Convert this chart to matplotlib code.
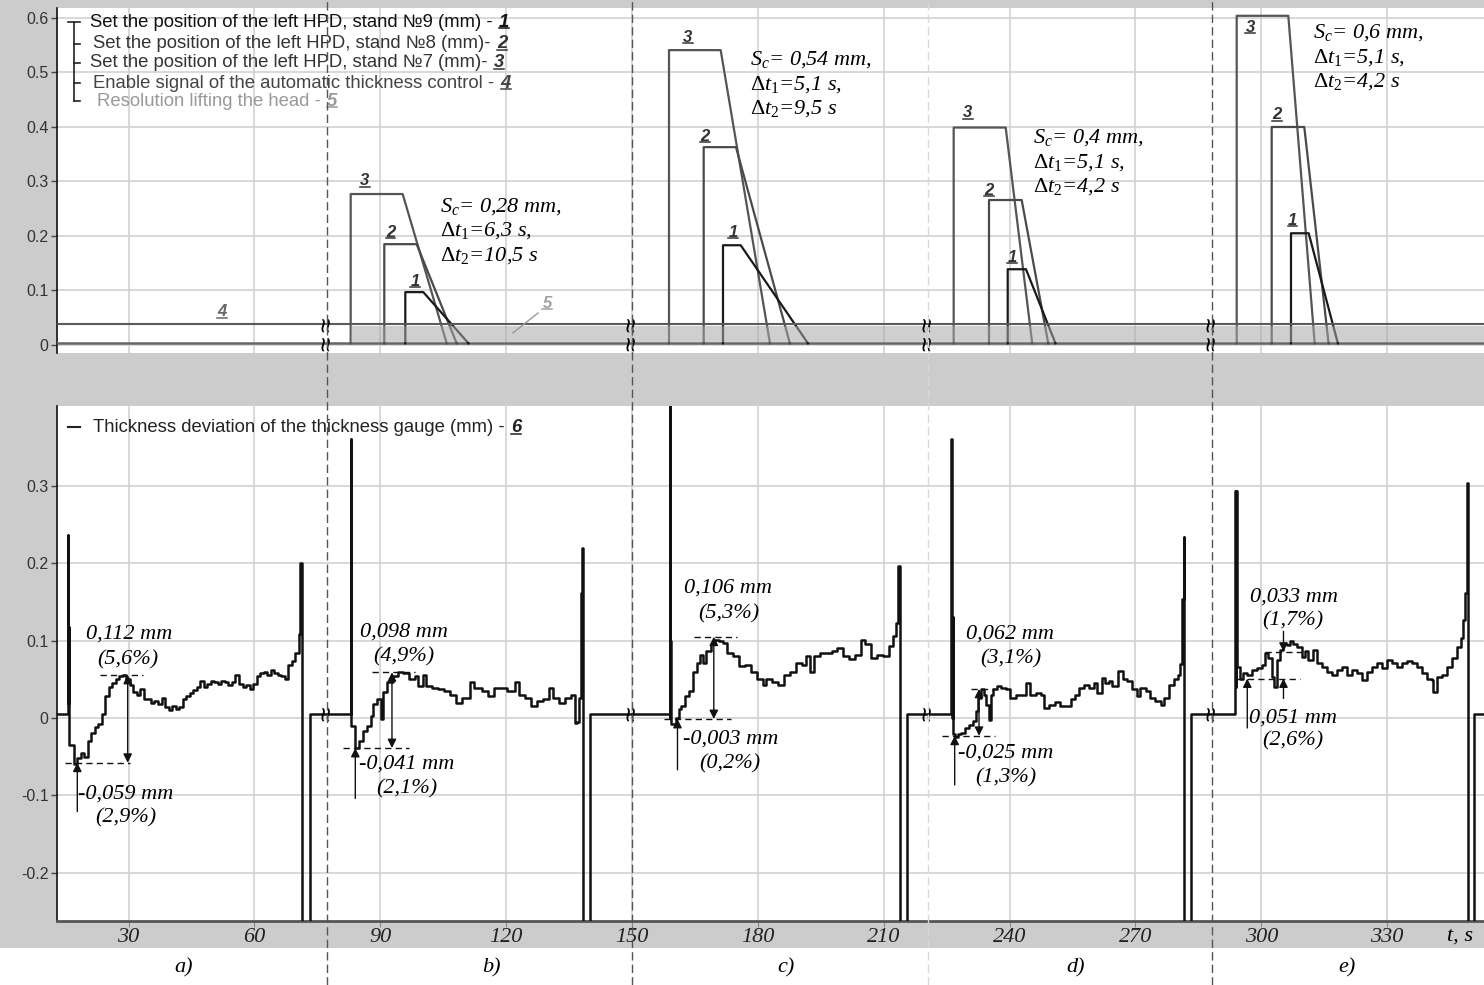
import numpy as np
import matplotlib
matplotlib.use('Agg')
import matplotlib.pyplot as plt
from matplotlib.lines import Line2D
from matplotlib.patches import Rectangle
from matplotlib import transforms
from matplotlib.ticker import FuncFormatter

plt.rcParams['font.family'] = ['Liberation Sans', 'DejaVu Sans']
plt.rcParams['mathtext.fontset'] = 'custom'
plt.rcParams['mathtext.rm'] = 'Liberation Serif'
plt.rcParams['mathtext.it'] = 'Liberation Serif:italic'
plt.rcParams['mathtext.bf'] = 'Liberation Serif:bold'

# ---------------- data ----------------
t_min, t_max = 12.93, 353.1
breaks_t = [77.3, 150.0, 220.6, 288.3]
seg_labels = ['a)', 'b)', 'c)', 'd)', 'e)']
seg_label_t = [43.0, 116.4, 186.7, 255.8, 320.4]

base = 0.003
# set-point steps, segments b..e : rise, end of plateau, back at zero, level
s3_rise = [82.94, 158.82, 226.68, 294.15]
s3_flat = [95.33, 171.14, 239.08, 306.45]
s3_zero = [105.82, 182.89, 245.40, 312.74]
s3_level = [0.277, 0.541, 0.399, 0.604]

s2_rise = [90.95, 167.09, 235.10, 302.49]
s2_flat = [98.67, 174.79, 242.89, 310.26]
s2_zero = [108.21, 187.64, 249.23, 316.05]
s2_level = [0.185, 0.363, 0.266, 0.400]

s1_rise = [95.96, 171.69, 239.56, 307.09]
s1_flat = [100.25, 175.91, 243.92, 311.31]
s1_zero = [111.02, 191.95, 250.95, 318.27]
s1_level = [0.097, 0.183, 0.139, 0.205]

sig4_level = 0.038
sig5_start, sig5_low, sig5_high = 82.94, 0.006, 0.034

sc_mm = ['0,28', '0,54', '0,4', '0,6']
dt1 = ['6,3', '5,1', '5,1', '5,1']
dt2 = ['10,5', '9,5', '4,2', '4,2']

# thickness deviation (signal 6)
tr_a_t = [t_min, 15.62, 15.62, 15.66, 15.72, 15.80,
          16.03, 16.87, 17.71, 18.55, 19.39, 20.23, 21.06, 21.90, 22.74, 23.58,
          24.42, 25.26, 26.10, 26.94, 27.78, 28.62, 29.46, 30.29, 31.13, 31.97,
          32.81, 33.65, 34.49, 35.33, 36.17, 37.01, 37.85, 38.69, 39.52, 40.36,
          41.20, 42.04, 42.88, 43.72, 44.56, 45.40, 46.24, 47.08, 47.92, 48.75,
          49.59, 50.43, 51.27, 52.11, 52.95, 53.79, 54.63, 55.47, 56.31, 57.15,
          57.98, 58.82, 59.66, 60.50, 61.34, 62.18, 63.02, 63.86, 64.70, 65.54,
          66.38, 67.21, 68.05, 68.89, 69.73, 70.57,
          70.85, 71.26, 71.26, 73.24, 73.24]
tr_a_v = [0.005, 0.005, 0.236, 0.020, 0.118, -0.035,
          -0.035, -0.060, -0.052, -0.045, -0.050, -0.030, -0.020, -0.012, -0.008, 0.005,
          0.028, 0.040, 0.045, 0.050, 0.054, 0.056, 0.050, 0.042, 0.034, 0.030,
          0.038, 0.025, 0.024, 0.020, 0.022, 0.018, 0.026, 0.014, 0.010, 0.016,
          0.012, 0.014, 0.024, 0.028, 0.032, 0.036, 0.040, 0.048, 0.040, 0.044,
          0.048, 0.046, 0.044, 0.048, 0.046, 0.042, 0.047, 0.056, 0.044, 0.040,
          0.042, 0.038, 0.044, 0.054, 0.058, 0.060, 0.056, 0.062, 0.058, 0.056,
          0.054, 0.050, 0.068, 0.074, 0.084, 0.108,
          0.200, 0.200, -0.40, -0.40, 0.005]

tr_b_t = [82.92, 82.92, 82.98, 83.05, 83.12,
          83.39, 84.04, 84.99, 85.92, 86.87, 87.80, 88.28, 89.23, 90.16, 90.64,
          91.59, 93.00, 94.21, 95.36, 96.76, 98.17, 98.94, 100.06, 101.01, 102.42,
          103.82, 105.25, 106.66, 108.07, 109.47, 111.38, 112.31, 114.19, 115.60, 117.03,
          118.91, 120.32, 122.20, 123.16, 124.56, 125.97, 127.40, 128.80, 130.21, 131.16,
          132.57, 133.98, 135.41, 136.34, 136.82, 137.29, 137.74, 137.94, 138.13,
          138.32, 138.32, 140.10, 140.10]
tr_b_v = [0.005, 0.361, 0.000, 0.127, -0.010,
          -0.010, -0.039, -0.030, -0.017, -0.010, 0.003, 0.018, 0.025, -0.001, 0.034,
          0.047, 0.054, 0.060, 0.058, 0.051, 0.054, 0.041, 0.056, 0.041, 0.039,
          0.037, 0.035, 0.030, 0.020, 0.026, 0.047, 0.039, 0.035, 0.028, 0.039,
          0.039, 0.035, 0.047, 0.030, 0.026, 0.015, 0.022, 0.024, 0.039, 0.026,
          0.020, 0.026, 0.030, -0.007, -0.005, 0.026, 0.082, 0.161, 0.219,
          0.219, -0.40, -0.40, 0.005]

tr_c_t = [158.96, 158.96, 159.02, 159.10, 159.30,
          159.60, 160.37, 161.13, 161.77, 162.73, 163.66, 164.61, 165.54, 166.21, 166.97,
          167.71, 168.86, 169.78, 170.74, 171.67, 172.62, 174.03, 175.43, 176.86, 178.27,
          179.68, 181.11, 182.04, 183.44, 184.87, 186.28, 187.69, 189.09, 190.52, 191.45,
          192.41, 193.34, 194.77, 196.17, 197.58, 198.98, 200.41, 201.82, 203.23, 204.47,
          205.59, 206.99, 208.42, 209.83, 211.24, 212.19, 212.93, 213.41,
          213.88, 213.88, 215.48, 215.48]
tr_c_v = [0.005, 0.500, 0.000, 0.099, -0.008,
          -0.008, 0.000, 0.012, 0.016, 0.029, 0.035, 0.059, 0.071, 0.082, 0.071,
          0.086, 0.095, 0.101, 0.099, 0.097, 0.084, 0.080, 0.067, 0.069, 0.059,
          0.050, 0.042, 0.050, 0.046, 0.042, 0.055, 0.059, 0.071, 0.068, 0.080,
          0.059, 0.080, 0.084, 0.084, 0.086, 0.090, 0.080, 0.076, 0.082, 0.101,
          0.095, 0.078, 0.082, 0.080, 0.093, 0.106, 0.123, 0.197,
          0.197, -0.40, -0.40, 0.005]

tr_d_t = [226.13, 226.13, 226.20, 226.45, 226.60,
          227.02, 227.64, 228.54, 229.43, 230.31, 231.19, 231.91, 232.53, 233.24, 233.86,
          234.48, 235.01, 235.46, 236.08, 236.96, 237.87, 239.18, 240.08, 241.42, 242.73,
          243.90, 244.97, 246.28, 247.45, 248.33, 249.41, 250.74, 252.05, 253.39, 254.72,
          255.61, 256.51, 257.85, 258.99, 260.06, 260.95, 262.02, 262.71, 263.62, 264.50,
          265.83, 266.98, 268.05, 269.12, 270.27, 271.15, 272.48, 273.56, 274.70, 276.04,
          276.92, 277.99, 279.13, 280.04, 280.66, 281.01, 281.54,
          281.70, 281.70, 283.30, 283.30]
tr_d_v = [0.005, 0.361, 0.000, 0.131, -0.021,
          -0.024, -0.021, -0.019, -0.013, -0.009, -0.004, 0.009, 0.026, 0.037, 0.030,
          0.017, -0.002, 0.030, 0.037, 0.041, 0.039, 0.037, 0.026, 0.030, 0.030,
          0.045, 0.030, 0.032, 0.030, 0.013, 0.017, 0.021, 0.015, 0.015, 0.024,
          0.030, 0.039, 0.043, 0.039, 0.045, 0.032, 0.052, 0.045, 0.048, 0.041,
          0.061, 0.050, 0.048, 0.037, 0.028, 0.039, 0.035, 0.026, 0.022, 0.017,
          0.026, 0.043, 0.050, 0.056, 0.070, 0.154, 0.234,
          0.234, -0.40, -0.40, 0.005]

tr_e_t = [293.79, 293.79, 293.95, 294.10, 294.25,
          294.52, 294.93, 295.72, 296.53, 297.72, 298.91, 300.11, 300.89, 301.68, 302.49,
          303.04, 303.68, 304.47, 305.11, 306.06, 306.85, 307.64, 308.45, 309.64, 310.43,
          311.22, 312.41, 313.22, 314.41, 315.60, 316.80, 317.99, 319.18, 320.37, 321.57,
          322.76, 323.95, 325.14, 326.34, 327.53, 328.72, 329.91, 331.11, 332.30, 333.49,
          334.68, 335.88, 337.07, 338.26, 339.45, 340.65, 341.03, 341.84, 343.03, 344.22,
          345.41, 346.61, 347.56, 348.18, 348.58, 349.10,
          349.29, 349.29, 350.62, 350.62, t_max]
tr_e_v = [0.005, 0.293, 0.040, 0.293, 0.066,
          0.066, 0.051, 0.058, 0.056, 0.062, 0.064, 0.068, 0.084, 0.077, 0.053,
          0.040, 0.075, 0.088, 0.096, 0.094, 0.099, 0.096, 0.092, 0.079, 0.086,
          0.075, 0.088, 0.071, 0.066, 0.060, 0.056, 0.062, 0.066, 0.056, 0.062,
          0.058, 0.049, 0.060, 0.066, 0.071, 0.064, 0.075, 0.071, 0.066, 0.071,
          0.073, 0.071, 0.066, 0.058, 0.051, 0.049, 0.034, 0.053, 0.056, 0.066,
          0.077, 0.092, 0.103, 0.127, 0.161, 0.304,
          0.304, -0.40, -0.40, 0.005, 0.005]

# measured extremes after each pass
peak_v = [0.0556, 0.059, 0.105, 0.0376, 0.0857]
min_v = [-0.0578, -0.0388, -0.0013, -0.023, 0.051]
peak_dash = [(23.18, 33.43), (88.02, 98.27), (164.77, 175.02), (230.76, 236.53), (300.89, 310.83)]
min_dash = [(14.83, 30.33), (81.22, 96.76), (157.53, 173.55), (223.82, 236.53), (294.21, 309.23)]
span_arrow_t = [29.78, 92.78, 169.50, 232.72, 305.3]
up_arrow_t = [17.77, 84.04, 160.84, 226.92, 296.67]
up_arrow_from = [-0.121, -0.104, -0.067, -0.0866, -0.0129]

ann_text = [('0,112 mm', 30.21, 0.1085), ('(5,6%)', 29.85, 0.0749),
            ('-0,059 mm', 29.26, -0.0982), ('(2,9%)', 29.38, -0.1292),
            ('0,098 mm', 95.65, 0.1106), ('(4,9%)', 95.65, 0.0791),
            ('-0,041 mm', 96.24, -0.0594), ('(2,1%)', 96.36, -0.0917),
            ('0,106 mm', 173.0, 0.168), ('(5,3%)', 173.0, 0.135),
            ('-0,003 mm', 173.53, -0.027), ('(0,2%)', 173.36, -0.0594),
            ('0,062 mm', 240.10, 0.1085), ('(3,1%)', 240.22, 0.0762),
            ('-0,025 mm', 239.03, -0.0452), ('(1,3%)', 239.15, -0.0771),
            ('0,033 mm', 307.81, 0.1563), ('(1,7%)', 307.57, 0.1249),
            ('0,051 mm', 307.57, 0.0005), ('(2,6%)', 307.57, -0.0297)]

# label positions for step numbers
num_pos = {'3': [(86.35, 0.301), (163.34, 0.565), (230.09, 0.426), (297.32, 0.582)],
           '2': [(92.47, 0.207), (167.39, 0.382), (235.10, 0.284), (303.75, 0.422)],
           '1': [(98.27, 0.116), (174.06, 0.207), (240.58, 0.160), (307.5, 0.228)]}
block_pos = [(104.23, 0.2538), (178.13, 0.523), (245.6, 0.380), (312.34, 0.5725)]

# ---------------- figure ----------------
W, H = 1484, 985
fig = plt.figure(figsize=(W / 100, H / 100), dpi=100)
fig.patch.set_facecolor('white')
fig.add_artist(Rectangle((0, 1 - 948 / H), 1, 948 / H, transform=fig.transFigure,
                         facecolor='#cccccc', edgecolor='none', zorder=-5))

ax1 = fig.add_axes([57 / W, 1 - 353 / H, 1 - 57 / W, 345 / H])
ax2 = fig.add_axes([57 / W, 1 - 921 / H, 1 - 57 / W, 515 / H])

serif = dict(family='Liberation Serif', style='italic')
fmt = FuncFormatter(lambda v, p: '0' if abs(v) < 1e-9 else f'{v:.1f}')

for ax in (ax1, ax2):
    ax.set_facecolor('white')
    ax.set_xlim(t_min, t_max)
    ax.set_xticks(np.arange(30, 331, 30))
    ax.grid(True, color='#d2d2d2', lw=1.2)
    ax.set_axisbelow(True)
    for s in ('top', 'right'):
        ax.spines[s].set_visible(False)
    ax.spines['left'].set_color('#111111')
    ax.spines['left'].set_linewidth(1.2)
    ax.yaxis.set_major_formatter(fmt)
    ax.tick_params(axis='y', length=4, width=1, color='#444444', pad=2,
                   labelsize=11.5, labelcolor='#333333')

# top panel
ax1.set_ylim(-0.0147, 0.6183)
ax1.set_yticks(np.arange(0, 0.61, 0.1))
ax1.spines['bottom'].set_visible(False)
ax1.tick_params(axis='x', length=0, labelbottom=False)


def steps(rise, flat, zero, level):
    t, v = [], []
    for r, f, z, l in zip(rise, flat, zero, level):
        t += [r, r, f, z, np.nan]
        v += [base, l, l, base, np.nan]
    return t, v


ax1.plot([t_min, t_max], [base, base], color='#666666', lw=1.8, zorder=3)
for (r, f, z, l), col in [((s3_rise, s3_flat, s3_zero, s3_level), '#555555'),
                          ((s2_rise, s2_flat, s2_zero, s2_level), '#4a4a4a'),
                          ((s1_rise, s1_flat, s1_zero, s1_level), '#1a1a1a')]:
    tt, vv = steps(r, f, z, l)
    ax1.plot(tt, vv, color=col, lw=1.6, zorder=3)

ax1.plot([t_min, t_max], [sig4_level, sig4_level], color='#5a5a5a', lw=1.5, zorder=5)
ax1.fill_between([sig5_start, t_max], sig5_low, sig5_high, color='#a8a8a8',
                 alpha=0.55, lw=0, zorder=4)

renderer_needed = []

for k in range(4):
    for num in ('3', '2', '1'):
        tx, vy = num_pos[num][k]
        txt = ax1.text(tx, vy, num, ha='center', va='center', fontsize=12,
                       fontweight='bold', style='italic', color='#333333')
        renderer_needed.append((txt, '#333333'))
    bx, by = block_pos[k]
    ax1.text(bx, by, rf'$S_c$= {sc_mm[k]} mm,', ha='left', va='center', fontsize=16, **serif)
    ax1.text(bx, by - 0.0445, r'$\Delta t_\mathit{1}$=' + f'{dt1[k]} s,', ha='left',
             va='center', fontsize=16, **serif)
    ax1.text(bx, by - 0.089, r'$\Delta t_\mathit{2}$=' + f'{dt2[k]} s', ha='left',
             va='center', fontsize=16, **serif)

t4 = ax1.text(52.26, 0.0606, '4', ha='center', va='center', fontsize=12,
              fontweight='bold', style='italic', color='#666666')
renderer_needed.append((t4, '#666666'))
t5 = ax1.text(129.74, 0.077, '5', ha='center', va='center', fontsize=12,
              fontweight='bold', style='italic', color='#a0a0a0')
renderer_needed.append((t5, '#a0a0a0'))
ax1.plot([127.6, 121.6], [0.0587, 0.022], color='#999999', lw=1, zorder=6)

# legend of top panel
leg_rows = [('Set the position of the left HPD, stand №9 (mm) - ', '1', '#111111', 0.0231, 0.9594),
            ('Set the position of the left HPD, stand №8 (mm)- ', '2', '#333333', 0.0252, 0.8957),
            ('Set the position of the left HPD, stand №7 (mm)- ', '3', '#333333', 0.0231, 0.8406),
            ('Enable signal of the automatic thickness control - ', '4', '#444444', 0.0252, 0.7826),
            ('Resolution lifting the head - ', '5', '#999999', 0.028, 0.7304)]
leg_nums = []
for text, num, col, x, y in leg_rows:
    tx = ax1.text(x, y, text, transform=ax1.transAxes, ha='left', va='center',
                  fontsize=13.3, color=col)
    nt = ax1.annotate(num, xy=(1, 0.5), xycoords=tx, xytext=(1, 0),
                      textcoords='offset points', ha='left', va='center', fontsize=13.3,
                      fontweight='bold', style='italic', color=col)
    leg_nums.append((nt, col))
ax1.plot([0.0119, 0.0119], [0.9594, 0.7304], transform=ax1.transAxes, color='#222222', lw=1.2)
ax1.plot([0.0077, 0.0161], [0.9594, 0.9594], transform=ax1.transAxes, color='#222222', lw=1.2)
for y in (0.8957, 0.8406, 0.7826, 0.7304):
    ax1.plot([0.0119, 0.0161], [y, y], transform=ax1.transAxes, color='#222222', lw=1.2)

# bottom panel
ax2.set_ylim(-0.2623, 0.4031)
ax2.set_yticks(np.arange(-0.2, 0.31, 0.1))
ax2.spines['bottom'].set_color('#555555')
ax2.spines['bottom'].set_linewidth(2)
ax2.tick_params(axis='x', length=4, color='#888888', pad=1)
ax2.set_xticklabels([str(v) for v in range(30, 331, 30)])
for lab in ax2.get_xticklabels():
    lab.set_fontfamily('Liberation Serif')
    lab.set_style('italic')
    lab.set_fontsize(16)
    lab.set_color('#222222')

tr_t = tr_a_t + tr_b_t + tr_c_t + tr_d_t + tr_e_t
tr_v = tr_a_v + tr_b_v + tr_c_v + tr_d_v + tr_e_v
ax2.plot(tr_t, tr_v, color='#111111', lw=1.8, drawstyle='steps-post', zorder=3)

for k in range(5):
    ax2.plot(peak_dash[k], [peak_v[k]] * 2, color='#111111', lw=1, dashes=(4.5, 3), zorder=4)
    ax2.plot(min_dash[k], [min_v[k]] * 2, color='#111111', lw=1, dashes=(4.5, 3), zorder=4)
    aprops = dict(color='#111111', lw=1, shrinkA=0, shrinkB=0, mutation_scale=13)
    if k < 4:
        ax2.annotate('', xy=(span_arrow_t[k], min_v[k]), xytext=(span_arrow_t[k], peak_v[k]),
                     arrowprops=dict(arrowstyle='<|-|>', **aprops), zorder=5)
    else:
        ax2.annotate('', xy=(span_arrow_t[k], peak_v[k]), xytext=(span_arrow_t[k], 0.1118),
                     arrowprops=dict(arrowstyle='-|>', **aprops), zorder=5)
        ax2.annotate('', xy=(span_arrow_t[k], min_v[k]), xytext=(span_arrow_t[k], 0.0252),
                     arrowprops=dict(arrowstyle='-|>', **aprops), zorder=5)
    ax2.annotate('', xy=(up_arrow_t[k], min_v[k]), xytext=(up_arrow_t[k], up_arrow_from[k]),
                 arrowprops=dict(arrowstyle='-|>', **aprops), zorder=5)

for text, tx, vy in ann_text:
    ax2.text(tx, vy, text, ha='center', va='center', fontsize=16, **serif)

ax2.plot([0.0077, 0.0161], [0.959, 0.959], transform=ax2.transAxes, color='#222222', lw=1.5)
bl = ax2.text(0.0252, 0.959, 'Thickness deviation of the thickness gauge (mm) - ',
              transform=ax2.transAxes, ha='left', va='center', fontsize=13.3, color='#222222')
n6 = ax2.annotate('6', xy=(1, 0.5), xycoords=bl, xytext=(1, 0), textcoords='offset points',
                  ha='left', va='center', fontsize=13.3, fontweight='bold', style='italic',
                  color='#222222')
leg_nums.append((n6, '#222222'))

# axis break marks
for bt in breaks_t:
    for vy in (sig4_level, base):
        ax1.text(bt, vy, '≈', rotation=90, ha='center', va='center', fontsize=19, zorder=7)
    ax2.text(bt, 0.005, '≈', rotation=90, ha='center', va='center', fontsize=19, zorder=7)

# dashed separators across whole figure
blend = transforms.blended_transform_factory(ax2.transData, fig.transFigure)
for bt, col in zip(breaks_t, ['#555555', '#555555', '#d8d8d8', '#555555']):
    fig.add_artist(Line2D([bt, bt], [0, 1], transform=blend, color=col, lw=1,
                          dashes=(6, 3), zorder=10))

for lab, lt in zip(seg_labels, seg_label_t):
    fig.text(lt, 1 - 968 / H, lab, transform=blend, ha='center', va='center',
             fontsize=16, **serif)
fig.text(347.4, 1 - 936 / H, 't, s', transform=blend, ha='center', va='center',
         fontsize=16, **serif)

# underline the numeric labels
fig.canvas.draw()
renderer = fig.canvas.get_renderer()
for txt, col in renderer_needed + leg_nums:
    bb = txt.get_window_extent(renderer)
    y = bb.y0 + 0.12 * bb.height
    fig.add_artist(Line2D([bb.x0, bb.x1], [y, y], transform=transforms.IdentityTransform(),
                          color=col, lw=1.1, zorder=8))

fig.savefig('out.png', dpi=100)
